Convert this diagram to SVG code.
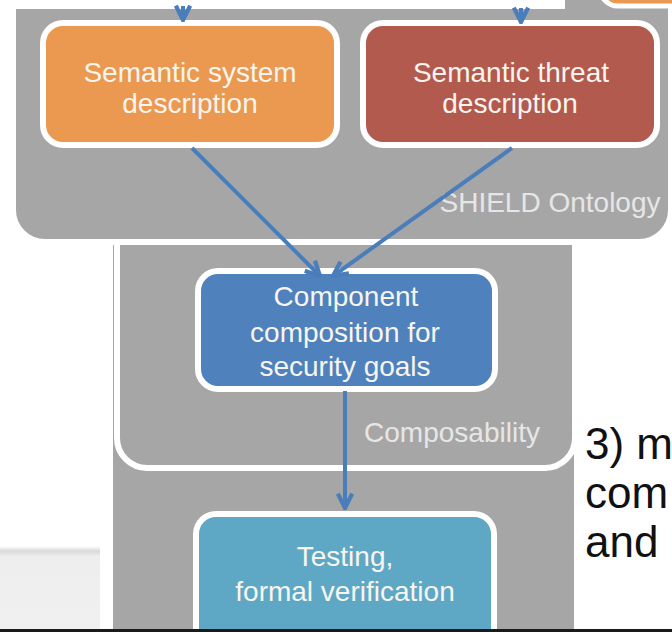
<svg xmlns="http://www.w3.org/2000/svg" width="672" height="632" viewBox="0 0 672 632">
  <defs>
    <marker id="ah" viewBox="0 0 10 10" refX="9" refY="5" markerWidth="4.5" markerHeight="4.5" orient="auto" markerUnits="strokeWidth">
      <path d="M1,1 L9,5 L1,9" fill="none" stroke="#4A7EBB" stroke-width="2.4" stroke-linejoin="miter"/>
    </marker>
    <linearGradient id="lg" x1="0" y1="0" x2="0" y2="1">
      <stop offset="0" stop-color="#ffffff"/>
      <stop offset="0.06" stop-color="#d9d9d9"/>
      <stop offset="0.12" stop-color="#eeeeee"/>
      <stop offset="1" stop-color="#f0f0f0"/>
    </linearGradient>
    <style>
      .panel { fill: #A6A6A6; stroke: #FFFFFF; stroke-width: 6; }
      .node rect { stroke: #FFFFFF; stroke-width: 6; }
      .nt { font-family: "Liberation Sans", Arial, sans-serif; font-size: 28px; fill: #F7F5EE; text-anchor: middle; }
      .lbl { font-family: "Liberation Sans", Arial, sans-serif; font-size: 28px; fill: #E6E6E6; }
      .side { font-family: "Liberation Sans", Arial, sans-serif; font-size: 44px; fill: #111111; }
      .conn { stroke: #4A7EBB; stroke-width: 4; fill: none; }
    </style>
  </defs>

  <rect x="0" y="0" width="672" height="632" fill="#FFFFFF"/>

  <!-- bottom-left light block -->
  <rect x="0" y="546" width="100" height="86" fill="url(#lg)"/>

  <!-- Testing panel -->
  <g id="panel-testing">
    <rect class="panel" x="110" y="200" width="467" height="520" rx="28"/>
  </g>

  <!-- Composability panel -->
  <g id="panel-composability">
    <rect class="panel" x="117" y="150" width="458" height="318" rx="30"/>
    <text class="lbl" x="452" y="442" text-anchor="middle">Composability</text>
  </g>

  <!-- Ontology panel -->
  <g id="panel-ontology">
    <rect class="panel" x="13" y="-60" width="658" height="302" rx="32"/>
    <text class="lbl" x="550" y="212" text-anchor="middle">SHIELD Ontology</text>
  </g>

  <!-- top-right partial orange node -->
  <g id="node-top-right">
    <rect x="600" y="-60" width="120" height="66" rx="18" fill="#EB9950" stroke="#FFFFFF" stroke-width="5"/>
  </g>

  <!-- top white strip -->
  <rect x="0" y="0" width="565" height="9" fill="#FFFFFF"/>

  <g id="node-system" class="node">
    <rect x="43" y="23" width="294" height="122" rx="20" fill="#EB9950"/>
    <text class="nt" x="190" y="82">Semantic system</text>
    <text class="nt" x="190" y="113">description</text>
  </g>

  <g id="node-threat" class="node">
    <rect x="363" y="23" width="294" height="122" rx="20" fill="#B35A4F"/>
    <text class="nt" x="511" y="82">Semantic threat</text>
    <text class="nt" x="510" y="113">description</text>
  </g>

  <g id="node-composition" class="node">
    <rect x="198" y="271" width="297" height="118" rx="20" fill="#4F81BD"/>
    <text class="nt" x="346" y="306">Component</text>
    <text class="nt" x="345" y="342">composition for</text>
    <text class="nt" x="345" y="376">security goals</text>
  </g>

  <g id="node-testing" class="node">
    <rect x="196" y="514" width="298" height="150" rx="20" fill="#5FA8C5"/>
    <text class="nt" x="345" y="566">Testing,</text>
    <text class="nt" x="345" y="601">formal verification</text>
  </g>

  <g id="connectors">
    <line class="conn" x1="183" y1="6" x2="183" y2="20" marker-end="url(#ah)"/>
    <line class="conn" x1="521" y1="8" x2="521" y2="22" marker-end="url(#ah)"/>
    <line class="conn" x1="192" y1="148" x2="320" y2="276" marker-end="url(#ah)"/>
    <line class="conn" x1="512" y1="148" x2="333" y2="276" marker-end="url(#ah)"/>
    <line class="conn" x1="345" y1="391" x2="345" y2="508" marker-end="url(#ah)"/>
  </g>

  <g id="side-text">
    <text class="side" x="585" y="459">3) m</text>
    <text class="side" x="585" y="508">com</text>
    <text class="side" x="585" y="557">and</text>
  </g>

  <rect x="0" y="629" width="672" height="3" fill="#1A1A1A"/>
</svg>
